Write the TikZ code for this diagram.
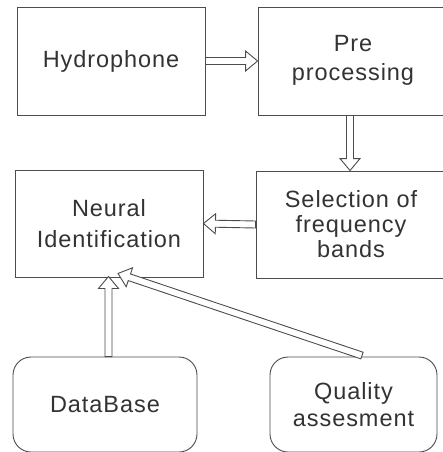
\documentclass[tikz,border=0pt]{standalone}
\usepackage{fontspec}
\setmainfont{Liberation Sans}[LetterSpace=4]
\usetikzlibrary{calc}
\definecolor{linec}{gray}{0.3}
\definecolor{txtc}{gray}{0.2}
\tikzset{
  box/.style={draw=linec, line width=0.9pt, text=txtc, align=center, inner sep=0pt,
    font=\fontsize{23.5}{25}\selectfont},
  rbox/.style={box, rounded corners=18pt},
  arr/.style={draw=linec, line width=0.9pt, fill=white, line join=miter},
}
\newcommand\blockarrow[2]{%
  \path (#2) coordinate (bt) ($(#2)!12pt!(#1)$) coordinate (bh) (#1) coordinate (bs);
  \draw[arr] ($(bs)!3.5pt!90:(bt)$) -- ($(bh)!3.5pt!-90:(bs)$) -- ($(bh)!10pt!-90:(bs)$)
    -- (bt) -- ($(bh)!10pt!90:(bs)$) -- ($(bh)!3.5pt!90:(bs)$) -- ($(bs)!3.5pt!-90:(bt)$) -- cycle;
}
\begin{document}
\begin{tikzpicture}[x=1pt, y=-1pt]
  \useasboundingbox (0,0) rectangle (442,452);
  \fill[white] (0,0) rectangle (442,452);
  \node[box, minimum width=188pt, minimum height=108pt] (hyd) at (111,61) {\raisebox{4pt}{Hydrophone}};
  \node[box, minimum width=190pt, minimum height=108pt] (pre) at (353,61) {\raisebox{-3pt}{\begin{tabular}{@{}c@{}}Pre\\[4pt]processing\end{tabular}}};
  \node[box, minimum width=188pt, minimum height=107pt] (neu) at (109,223.5) {Neural\\[6pt]Identification};
  \node[box, minimum width=190pt, minimum height=107pt] (sel) at (351,224.5) {Selection of\\frequency\\bands};
  \node[rbox, minimum width=184pt, minimum height=95pt] (db) at (105,404.5) {DataBase};
  \node[rbox, minimum width=167pt, minimum height=95pt] (qa) at (353.5,404.5) {Quality\\[2pt]assesment};
  \coordinate (presout) at ($(pre.south)+(-3,0)$);
  \coordinate (selin) at (presout |- sel.north);
  \coordinate (dbout) at ($(db.north)+(3.5,0)$);
  \coordinate (neuin1) at ($(dbout |- neu.south)+(0,-1)$);
  \coordinate (qaout) at ($(qa.north)+(8.5,-1)$);
  \coordinate (neuin2) at ($(neu.south)+(9,-4)$);
  \blockarrow{hyd.east}{pre.west}
  \blockarrow{presout}{selin}
  \blockarrow{sel.west}{neu.east}
  \blockarrow{dbout}{neuin1}
  \blockarrow{qaout}{neuin2}
\end{tikzpicture}
\end{document}
